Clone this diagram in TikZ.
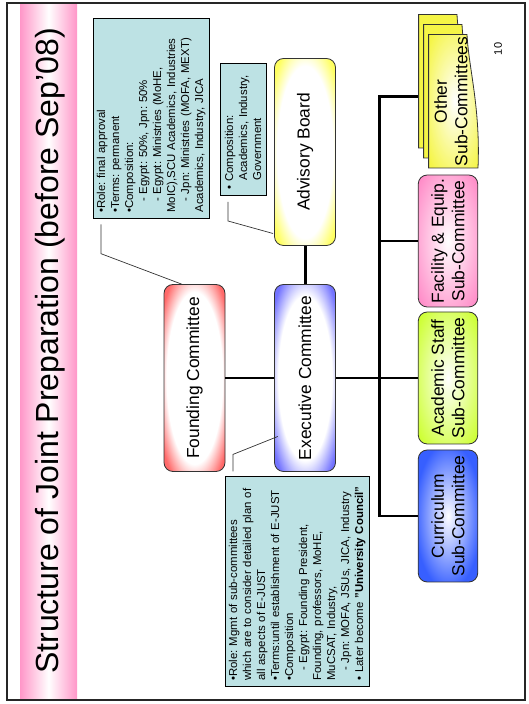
\documentclass[tikz,border=0pt]{standalone}
\usepackage{fontspec}
\setmainfont{Liberation Sans}

\definecolor{bandpink}{RGB}{255,150,200}
\definecolor{foundred}{RGB}{255,105,105}
\definecolor{execblue}{RGB}{115,115,255}
\definecolor{advyellow}{RGB}{255,255,95}
\definecolor{currblue}{RGB}{55,95,255}
\definecolor{acadlime}{RGB}{205,255,50}
\definecolor{facpink}{RGB}{255,140,200}
\definecolor{othyellow}{RGB}{245,245,70}
\definecolor{notecyan}{RGB}{189,226,228}

\pgfdeclareradialshading{foundingrim}{\pgfpoint{0bp}{0bp}}{color(0bp)=(white); color(23bp)=(white); color(32bp)=(foundred); color(50bp)=(foundred)}
\pgfdeclareradialshading{executiverim}{\pgfpoint{0bp}{0bp}}{color(0bp)=(white); color(22bp)=(white); color(32bp)=(execblue); color(50bp)=(execblue)}
\pgfdeclareradialshading{advisoryrim}{\pgfpoint{0bp}{0bp}}{color(0bp)=(white); color(23bp)=(white); color(32bp)=(advyellow); color(50bp)=(advyellow)}
\pgfdeclareradialshading{currshade}{\pgfpoint{0bp}{0bp}}{color(0bp)=(white); color(28bp)=(currblue); color(50bp)=(currblue)}
\pgfdeclareradialshading{acadshade}{\pgfpoint{0bp}{0bp}}{color(0bp)=(white); color(33bp)=(acadlime); color(50bp)=(acadlime)}
\pgfdeclareradialshading{facshade}{\pgfpoint{0bp}{0bp}}{color(0bp)=(white); color(33bp)=(facpink); color(50bp)=(facpink)}
\pgfdeclareradialshading{othshade}{\pgfpoint{0bp}{0bp}}{color(0bp)=(white); color(33bp)=(othyellow); color(50bp)=(othyellow)}

\tikzset{
  slidetitle/.style={font=\fontsize{32}{36}\selectfont},
  box/.style={draw=black!80, line width=0.8pt, rounded corners=9pt, minimum width=187pt, minimum height=61pt, inner sep=0pt, align=center, font=\fontsize{17.4}{20.5}\selectfont},
  subbox/.style={box, minimum width=132pt, minimum height=59.5pt},
  pagebox/.style={draw=black!80, line width=0.8pt},
  notebox/.style={draw=black, line width=0.8pt, fill=notecyan, anchor=north west, align=left, inner xsep=6pt, inner ysep=2pt, font=\fontsize{11.4}{14}\selectfont},
  thinlink/.style={line width=1.3pt},
  boardlink/.style={line width=3pt},
  busline/.style={line width=2.7pt},
  calloutline/.style={draw=black!80, line width=0.7pt}
}

\begin{document}
\frenchspacing
\begin{tikzpicture}[x=1pt, y=1pt]

\useasboundingbox (0,0) rectangle (528,704);

% slide frame and title band (page coordinates)
\fill[left color=bandpink, right color=bandpink, middle color=white] (20,4) rectangle (77,701);
\draw[line width=1.5pt, black!85] (7,4) rectangle (525,701);

% the slide itself, turned a quarter
\begin{scope}[rotate=90, transform shape]

\node[slidetitle] (title) at (353,-50) {Structure of Joint Preparation (before Sep’08)};
\node[font=\fontsize{11}{13}\selectfont] (pageno) at (655,-498) {10};

% committees
\node[box, shading=foundingrim] (founding) at (326,-194.5) {Founding Committee};
\node[box, shading=executiverim] (executive) at (326,-305) {Executive Committee};
\node[box, shading=advisoryrim] (advisory) at (552,-305) {Advisory Board};

% sub-committees
\node[subbox, shading=currshade] (curriculum) at (188,-448) {Curriculum\\Sub-Committee};
\node[subbox, shading=acadshade] (academic) at (326,-448) {Academic Staff\\Sub-Committee};
\node[subbox, shading=facshade] (facility) at (463,-448) {Facility \& Equip.\\Sub-Committee};

\foreach \dx/\dy in {20/10, 10/5}
  \draw[pagebox, fill=othyellow] (536+\dx,-428.6+\dy) -- (669.5+\dx,-428.6+\dy) -- (669.5+\dx,-467+\dy) .. controls (636.5+\dx,-468.6+\dy) and (596+\dx,-480.6+\dy) .. (536+\dx,-478+\dy) -- cycle;
\draw[pagebox, shading=othshade] (536,-428.6) -- (669.5,-428.6) -- (669.5,-467) .. controls (636.5,-468.6) and (596,-480.6) .. (536,-478) -- cycle;
\node[align=center, font=\fontsize{17.4}{20.5}\selectfont] (other) at (602.5,-451) {Other\\Sub-Committees};

% notes
\node[notebox, text width=188pt, minimum height=116.2pt] (fcnote) at (485,-92.6) {%
•Role: final approval\\
•Terms: permanent\\
•Composition:\\
\hspace*{11pt}- Egypt: 50\%, Jpn: 50\%\\
\hspace*{11pt}- Egypt: Ministries (MoHE,\\
MoIC),SCU Academics, Industries\\
\hspace*{11pt}- Jpn: Ministries (MOFA, MEXT)\\
Academics, Industry, JICA};

\node[notebox, text width=120pt, minimum height=46.5pt] (abnote) at (508,-219.5) {%
• Composition:\\
\hspace*{9pt}Academics, Industry,\\
\hspace*{9pt}Government};

\node[notebox, text width=198pt, minimum height=143.7pt] (ecnote) at (17,-225) {%
•Role: Mgmt of sub-committees\\
which are to consider detailed plan of\\
all aspects of E-JUST\\
•Terms:until establishment of E-JUST\\
•Composition\\
\hspace*{10pt}- Egypt: Founding President,\\
Founding, professors, MoHE,\\
MuCSAT, Industry,\\
\hspace*{10pt}- Jpn: MOFA, JSUs, JICA, Industry\\
• Later become \textbf{"University Council"}};

% tree
\coordinate (buscurr) at (188,-379.5);
\coordinate (busfac) at (463,-379.5);
\coordinate (busother) at (607.5,-379.5);
\coordinate (othertop) at (607.5,-418);

\draw[thinlink] (founding.south) -- (executive.north);
\draw[boardlink] (executive.east) -- (advisory.west);
\draw[thinlink] (executive.south) -- (academic.north);
\draw[busline] (curriculum.north) -- (buscurr) -- (busother) -- (othertop);
\draw[busline] (facility.north) -- (busfac);

% note pointers
\coordinate (fcstart) at (479.5,-101);
\coordinate (fcbend) at (450.3,-101);
\coordinate (fctip) at (419.8,-181.8);
\coordinate (abstart) at (502,-228);
\coordinate (abbend) at (483,-228);
\coordinate (abtip) at (470.5,-273);
\coordinate (ecstart) at (232.5,-233);
\coordinate (ecbend) at (249.6,-233);
\coordinate (ectip) at (267.5,-277.8);

\draw[calloutline] (fcstart) -- (fcbend) -- (fctip);
\draw[calloutline] (abstart) -- (abbend) -- (abtip);
\draw[calloutline] (ecstart) -- (ecbend) -- (ectip);

\end{scope}

\end{tikzpicture}
\end{document}
